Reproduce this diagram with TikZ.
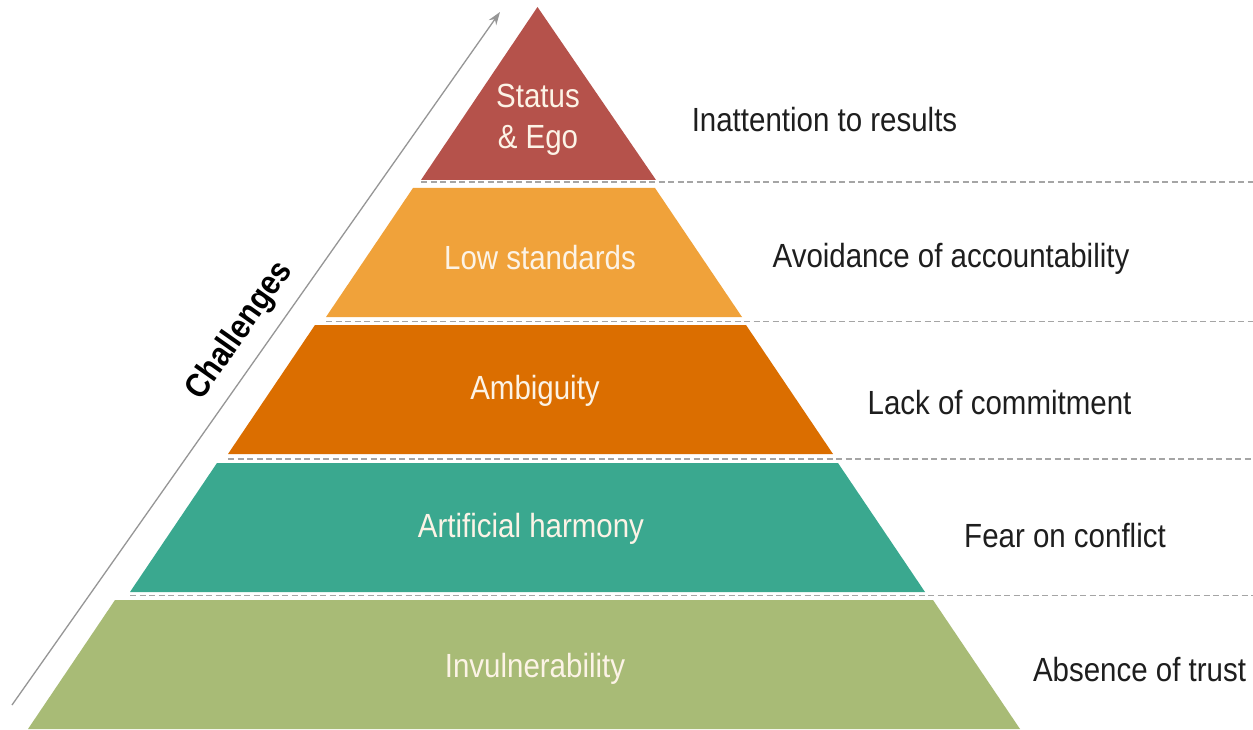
\documentclass[tikz,border=0pt]{standalone}
\usepackage{fontspec}
\setmainfont{Liberation Sans}[FakeStretch=0.88]
\usetikzlibrary{arrows.meta}
\definecolor{lvred}{RGB}{181,82,75}
\definecolor{lvlorange}{RGB}{240,162,58}
\definecolor{lvdorange}{RGB}{219,110,0}
\definecolor{lvteal}{RGB}{58,168,143}
\definecolor{lvgreen}{RGB}{168,187,118}
\definecolor{lvtext}{RGB}{252,243,230}
\definecolor{lvdark}{RGB}{30,30,30}
\definecolor{lvdash}{RGB}{165,165,165}
\definecolor{lvarrow}{RGB}{150,150,150}
\tikzset{
  layertext/.style={text=lvtext, font=\fontsize{33.5}{40}\selectfont, align=center, inner sep=0pt},
  sidetext/.style={text=lvdark, font=\fontsize{33.5}{40}\selectfont, inner sep=0pt},
  sepline/.style={draw=lvdash, line width=1.2pt, dash pattern=on 6pt off 3.5pt},
}
\begin{document}
\begin{tikzpicture}[x=1pt,y=-1pt]
\useasboundingbox (0,0) rectangle (1253,730);
\fill[white] (0,0) rectangle (1253,730);

% pyramid layers, top to bottom
\fill[lvred]     (537.5,7) -- (656,180) -- (421,180) -- cycle;
\fill[lvlorange] (413,188) -- (655,188) -- (742,317) -- (326,317) -- cycle;
\fill[lvdorange] (315,325) -- (746,325) -- (833,454) -- (228,454) -- cycle;
\fill[lvteal]    (217,463) -- (838,463) -- (925,592) -- (130,592) -- cycle;
\fill[lvgreen]   (115,600) -- (933,600) -- (1020,729) -- (28,729) -- cycle;

% dashed separators
\draw[sepline] (421,182) -- (1253,182);
\draw[sepline] (326,321.5) -- (1253,321.5);
\draw[sepline] (228,459) -- (1253,459);
\draw[sepline] (130,595.5) -- (1253,595.5);

% rising arrow
\coordinate (atail) at (12,705);
\coordinate (ahead) at (500,12);
\draw[lvarrow, line width=1.3pt, -{Stealth[length=13pt,width=9pt]}] (atail) -- (ahead);
\node[font=\fontsize{34}{40}\selectfont\bfseries, text=black, rotate=54.8, inner sep=0pt] (chal) at (240,331) {Challenges};

% layer labels
\node[layertext] (l1) at (538,120) {Status\\[1pt]\& Ego};
\node[layertext] (l2) at (540,258) {Low standards};
\node[layertext] (l3) at (535,391) {Ambiguity};
\node[layertext] (l4) at (531,529) {Artificial harmony};
\node[layertext] (l5) at (535,669) {Invulnerability};

% side labels
\node[sidetext] (r1) at (824.5,120) {Inattention to results};
\node[sidetext] (r2) at (951,259) {Avoidance of accountability};
\node[sidetext] (r3) at (999.5,403) {Lack of commitment};
\node[sidetext] (r4) at (1065,536) {Fear on conflict};
\node[sidetext] (r5) at (1139.5,670) {Absence of trust};
\end{tikzpicture}
\end{document}
